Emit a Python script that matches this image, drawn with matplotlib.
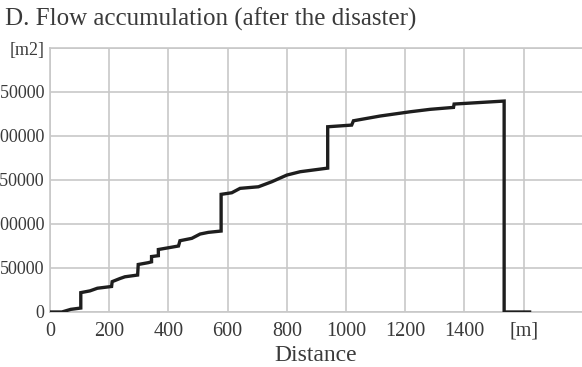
import matplotlib
matplotlib.use("Agg")
import matplotlib.pyplot as plt

distance = [0, 40, 70, 104, 104, 135, 160, 208, 210, 236, 253, 296, 298, 331, 343, 343,
            366, 366, 434, 439, 479, 507, 535, 578, 578, 614, 642, 704, 749, 800, 845,
            938, 938, 1019, 1025, 1115, 1216, 1284, 1363, 1365, 1534, 1534, 1620]
accumulation = [0, 0, 3000, 4500, 22000, 24000, 27000, 29000, 34500, 38000, 40000, 42000,
                54000, 56000, 57000, 63000, 64000, 71000, 75000, 81000, 83700, 88600, 90500,
                92000, 133700, 135500, 140500, 142300, 148000, 155600, 159400, 163500,
                210500, 212400, 217300, 222700, 227500, 230300, 232500, 236300, 239700, 0, 0]

x_ticks = [0, 200, 400, 600, 800, 1000, 1200, 1400, 1600]
x_labels = ["0", "200", "400", "600", "800", "1000", "1200", "1400", "[m]"]
y_ticks = [0, 50000, 100000, 150000, 200000, 250000, 300000]
y_labels = ["0", "50000", "100000", "150000", "200000", "250000", "[m2]"]

plt.rcParams['font.family'] = ['Liberation Serif', 'DejaVu Serif']
txt = "#3a3a3a"
grid = "#c8c8c8"

fig = plt.figure(figsize=(5.82, 3.67), dpi=100)
ax = fig.add_axes([50/582, 1-312/367, 1-50/582, (312-48)/367])

ax.plot(distance, accumulation, color="#1e1e1e", lw=2.4, solid_joinstyle="miter", zorder=3)

ax.set_xlim(0, 1797)
ax.set_ylim(0, 300000)
ax.set_xticks(x_ticks)
ax.set_xticklabels(x_labels)
ax.set_yticks(y_ticks)
ax.set_yticklabels(y_labels)
ax.tick_params(length=0, colors=txt)
ax.tick_params(axis="x", pad=7, labelsize=14.5)
ax.tick_params(axis="y", pad=4, labelsize=13)
ax.grid(True, color=grid, lw=1.2)
for s in ["left", "bottom", "top"]:
    ax.spines[s].set_color(grid)
    ax.spines[s].set_linewidth(1.2)
ax.spines["right"].set_visible(False)

ax.set_xlabel("Distance", fontsize=17, color=txt, labelpad=3)
fig.text(5/582, 1-19/367, "D. Flow accumulation (after the disaster)", fontsize=18,
         color=txt, ha="left", va="center")

fig.savefig("out.png", dpi=100)
